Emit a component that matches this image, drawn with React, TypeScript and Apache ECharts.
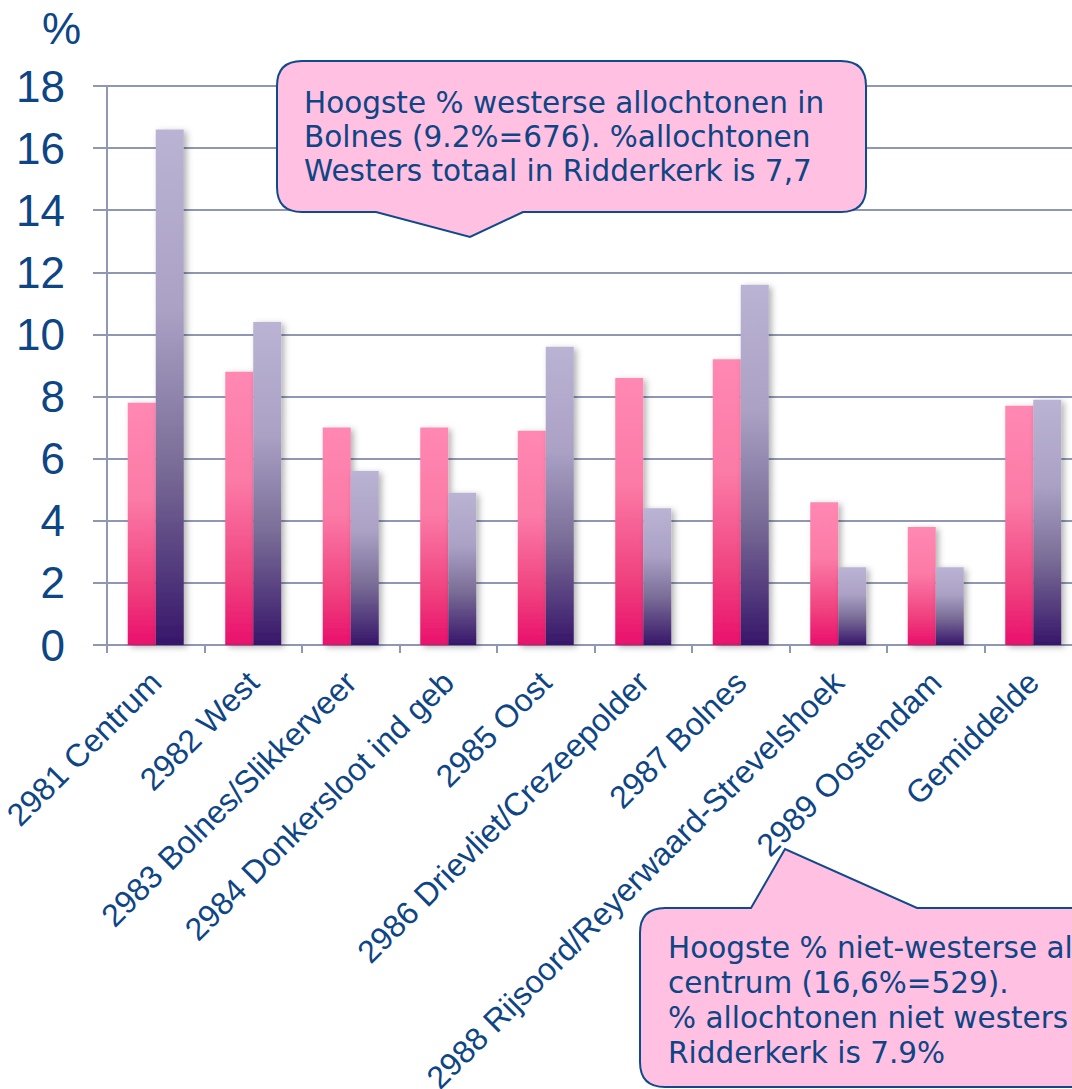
import React, { useEffect, useRef } from "react";
import * as echarts from "echarts";

const categories = [
  "2981 Centrum",
  "2982 West",
  "2983 Bolnes/Slikkerveer",
  "2984 Donkersloot ind geb",
  "2985 Oost",
  "2986 Drievliet/Crezeepolder",
  "2987 Bolnes",
  "2988 Rijsoord/Reyerwaard-Strevelshoek",
  "2989 Oostendam",
  "Gemiddelde",
];
const westers = [7.8, 8.8, 7.0, 7.0, 6.9, 8.6, 9.2, 4.6, 3.8, 7.7];
const nietWesters = [16.6, 10.4, 5.6, 4.9, 9.6, 4.4, 11.6, 2.5, 2.5, 7.9];
const yMin = 0;
const yMax = 18;
const yInterval = 2;
const unitLabel = "%";
const callout1Lines = [
  "Hoogste % westerse allochtonen in",
  "Bolnes (9.2%=676). %allochtonen",
  "Westers totaal in Ridderkerk is 7,7",
];
const callout2Lines = [
  "Hoogste % niet-westerse allochtonen in",
  "centrum (16,6%=529).",
  "% allochtonen niet westers in",
  "Ridderkerk is 7.9%",
];

const NAVY = "#0d4585";
const AXIS = "#8f97b5";
const CALLOUT_FILL = "#ffc0e1";
const CALLOUT_STROKE = "#114a8a";

const callout1Path =
  "M 302 61 H 841 Q 866 61 866 86 V 187 Q 866 212 841 212 H 523 L 470 237 L 376 212 H 302 Q 277 212 277 187 V 86 Q 277 61 302 61 Z";
const callout2Path =
  "M 665 908 H 751 L 785 849 L 917 908 H 1120 V 1087 H 665 Q 640 1087 640 1062 V 933 Q 640 908 665 908 Z";

let registered = false;
function registerShapes() {
  if (registered) return;
  registered = true;
  echarts.graphic.registerShape("callout1", echarts.graphic.extendPath(callout1Path, {}) as any);
  echarts.graphic.registerShape("callout2", echarts.graphic.extendPath(callout2Path, {}) as any);
}

export default function App() {
  const ref = useRef<HTMLDivElement>(null);
  useEffect(() => {
    if (!ref.current) return;
    registerShapes();
    const chart = echarts.init(ref.current, null, { renderer: "svg" });
    const pinkGrad = new echarts.graphic.LinearGradient(0, 0, 0, 1, [
      { offset: 0, color: "#ff88b2" },
      { offset: 0.4, color: "#fb7aa6" },
      { offset: 0.75, color: "#f0427f" },
      { offset: 1, color: "#e9106c" },
    ]);
    const purpleGrad = new echarts.graphic.LinearGradient(0, 0, 0, 1, [
      { offset: 0, color: "#bbb3d3" },
      { offset: 0.35, color: "#aaa1c5" },
      { offset: 0.65, color: "#7a6d97" },
      { offset: 1, color: "#37166a" },
    ]);
    const textStyle = {
      fontFamily: "'DejaVu Sans', Verdana, sans-serif",
      fontSize: 29.5,
      fill: NAVY,
    };
    const graphic: any[] = [
      {
        type: "text",
        left: 42,
        top: 6,
        style: {
          text: unitLabel,
          fontFamily: "'Liberation Sans', Arial, sans-serif",
          fontSize: 44,
          fill: NAVY,
        },
      },
      {
        type: "callout1",
        x: 0,
        y: 0,
        z: 100,
        style: { fill: CALLOUT_FILL, stroke: CALLOUT_STROKE, lineWidth: 2 },
      },
      ...callout1Lines.map((t, i) => ({
        type: "text",
        x: 304,
        y: 103 + i * 34,
        z: 101,
        style: { ...textStyle, text: t, textVerticalAlign: "middle", verticalAlign: "middle" },
      })),
      {
        type: "callout2",
        x: 0,
        y: 0,
        z: 100,
        style: { fill: CALLOUT_FILL, stroke: CALLOUT_STROKE, lineWidth: 2 },
      },
      ...callout2Lines.map((t, i) => ({
        type: "text",
        x: 668,
        y: 948 + i * 35,
        z: 101,
        style: { ...textStyle, text: t, textVerticalAlign: "middle", verticalAlign: "middle" },
      })),
    ];
    const shadow = {
      shadowColor: "rgba(0,0,0,0.3)",
      shadowBlur: 6,
      shadowOffsetX: 3,
      shadowOffsetY: 2,
    };
    chart.setOption({
      animation: false,
      grid: {
        left: 107,
        top: 86,
        width: 975,
        height: 559,
        containLabel: false,
        outerBoundsMode: "none",
      },
      xAxis: {
        type: "category",
        data: categories,
        axisLine: { show: true, lineStyle: { color: AXIS, width: 2 } },
        axisTick: { show: true, length: 8, alignWithLabel: false, lineStyle: { color: AXIS, width: 2 } },
        axisLabel: {
          rotate: 45,
          interval: 0,
          margin: 32,
          color: NAVY,
          fontSize: 32,
          fontFamily: "'Liberation Sans', Arial, sans-serif",
        },
        splitLine: { show: false },
      },
      yAxis: {
        type: "value",
        min: yMin,
        max: yMax,
        interval: yInterval,
        axisLine: { show: true, lineStyle: { color: AXIS, width: 2 } },
        axisTick: { show: true, length: 14, lineStyle: { color: AXIS, width: 2 } },
        axisLabel: {
          margin: 42,
          color: NAVY,
          fontSize: 44,
          fontFamily: "'Liberation Sans', Arial, sans-serif",
        },
        splitLine: { show: true, lineStyle: { color: AXIS, width: 2 } },
      },
      series: [
        {
          type: "bar",
          name: "Westers",
          data: westers,
          barWidth: 28,
          barGap: "0%",
          itemStyle: { color: pinkGrad, ...shadow },
        },
        {
          type: "bar",
          name: "Niet-westers",
          data: nietWesters,
          barWidth: 28,
          barGap: "0%",
          itemStyle: { color: purpleGrad, ...shadow },
        },
      ],
      graphic,
    });
    return () => chart.dispose();
  }, []);
  return (
    <div
      ref={ref}
      style={{ position: "fixed", left: 0, top: 0, width: 1072, height: 1089, background: "#ffffff" }}
    />
  );
}
